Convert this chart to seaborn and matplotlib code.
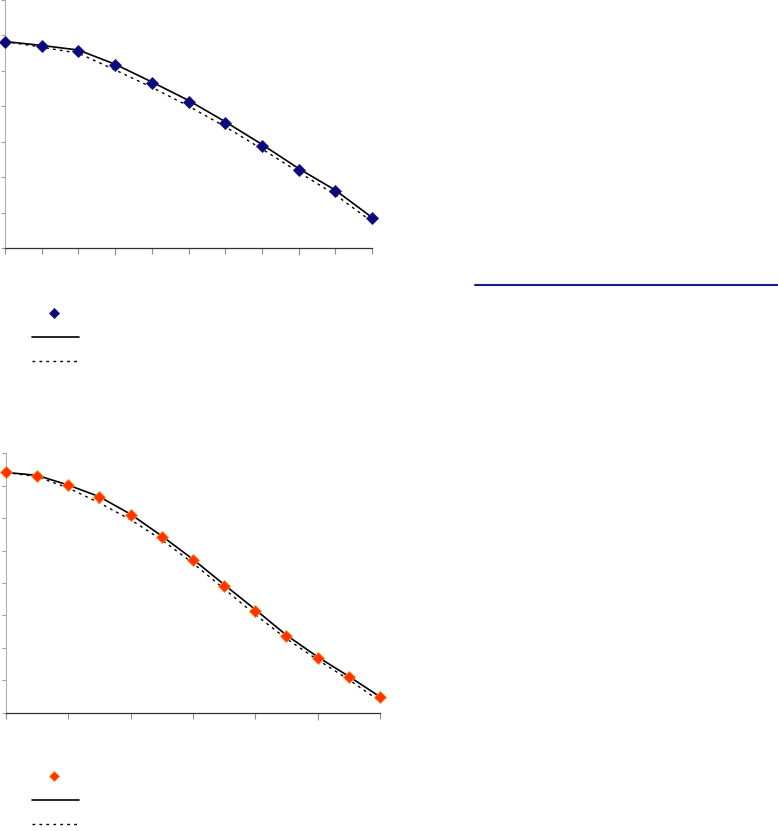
import matplotlib
matplotlib.use('Agg')
import matplotlib.pyplot as plt
from matplotlib.lines import Line2D
import seaborn as sns
import numpy as np

sns.set_style('white')
plt.rcParams['font.family'] = ['DejaVu Sans']

# top panel (navy points)
x_top = list(range(11))
pts_top = [5.83, 5.71, 5.57, 5.17, 4.67, 4.14, 3.54, 2.90, 2.22, 1.62, 0.87]
fit_top = [5.83, 5.72, 5.59, 5.19, 4.69, 4.17, 3.57, 2.93, 2.25, 1.64, 0.87]
alt_top = [5.83, 5.67, 5.50, 5.03, 4.54, 4.01, 3.43, 2.80, 2.15, 1.51, 0.75]

# bottom panel (orange points)
x_bot = list(range(13))
pts_bot = [7.41, 7.31, 7.01, 6.64, 6.10, 5.43, 4.71, 3.92, 3.15, 2.37, 1.70, 1.11, 0.49]
fit_bot = [7.41, 7.32, 7.02, 6.66, 6.12, 5.45, 4.73, 3.95, 3.18, 2.39, 1.72, 1.12, 0.49]
alt_bot = [7.41, 7.28, 6.93, 6.47, 5.95, 5.33, 4.61, 3.82, 3.02, 2.28, 1.63, 1.02, 0.35]

fig = plt.figure(figsize=(7.78, 8.31), dpi=100)
ax1 = fig.add_axes([0.0064, 0.701, 0.472, 0.299])
ax2 = fig.add_axes([0.0077, 0.1424, 0.4807, 0.3121])


def draw(ax, x, pts, fit, alt, color, edge, xmax, ymax, xticks, yticks, xmaj, ymaj):
    sns.lineplot(x=x, y=fit, ax=ax, color='black', lw=1.2)
    sns.lineplot(x=x, y=alt, ax=ax, color='black', lw=1.0, linestyle=(0, (2, 3)))
    ax.plot(x, pts, linestyle='', marker='D', ms=6.5, color=color,
            markeredgecolor=edge, markeredgewidth=0.6, clip_on=False, zorder=5)
    ax.set_xlim(0, xmax)
    ax.set_ylim(0, ymax)
    ax.set_xticks(xticks)
    ax.set_yticks(yticks)
    ax.set_xticklabels([])
    ax.set_yticklabels([])
    ax.tick_params(axis='x', direction='out', length=4, width=0.8, colors='#909090', bottom=True)
    ax.tick_params(axis='y', direction='out', length=3, width=0.8, colors='#a0a0a0', left=True)
    for t, v in zip(ax.xaxis.get_major_ticks(), xticks):
        if v in xmaj:
            t.tick1line.set_color('black')
            t.tick1line.set_markersize(5)
    for t, v in zip(ax.yaxis.get_major_ticks(), yticks):
        if v in ymaj:
            t.tick1line.set_color('black')
    for s in ['top', 'right']:
        ax.spines[s].set_visible(False)
    ax.spines['left'].set_color('#b0b0b0')
    ax.spines['left'].set_linewidth(0.8)
    ax.spines['bottom'].set_color('#303030')
    ax.spines['bottom'].set_linewidth(0.9)
    ax.set_xlabel('')
    ax.set_ylabel('')


draw(ax1, x_top, pts_top, fit_top, alt_top, '#0a0a80', '#1a1a70', 10, 7,
     list(range(11)), list(range(8)), [3, 8], [])
draw(ax2, x_bot, pts_bot, fit_bot, alt_bot, '#ff3300', '#ff8a20', 12, 8,
     list(range(0, 13, 2)), list(range(9)), [10], [5])


# legend keys (no labels)
def legend_keys(y_pt, color, edge):
    W, H = 778, 831
    fig.add_artist(Line2D([54 / W], [1 - y_pt / H], marker='D', ms=5.5, color=color,
                          markeredgecolor=edge, markeredgewidth=0.6, linestyle=''))
    fig.add_artist(Line2D([32 / W, 79 / W], [1 - (y_pt + 24) / H] * 2, color='black', lw=1.2))
    fig.add_artist(Line2D([32 / W, 79 / W], [1 - (y_pt + 48) / H] * 2, color='black', lw=1.0,
                          linestyle=(0, (2, 3))))


legend_keys(313, '#0a0a80', '#1a1a70')
legend_keys(776, '#ff3300', '#ff8a20')

# navy rule on the right
fig.add_artist(Line2D([475 / 778, 778 / 778], [1 - 285 / 831] * 2, color='#1a1a80', lw=1.5))

fig.savefig('out.png', dpi=100)
